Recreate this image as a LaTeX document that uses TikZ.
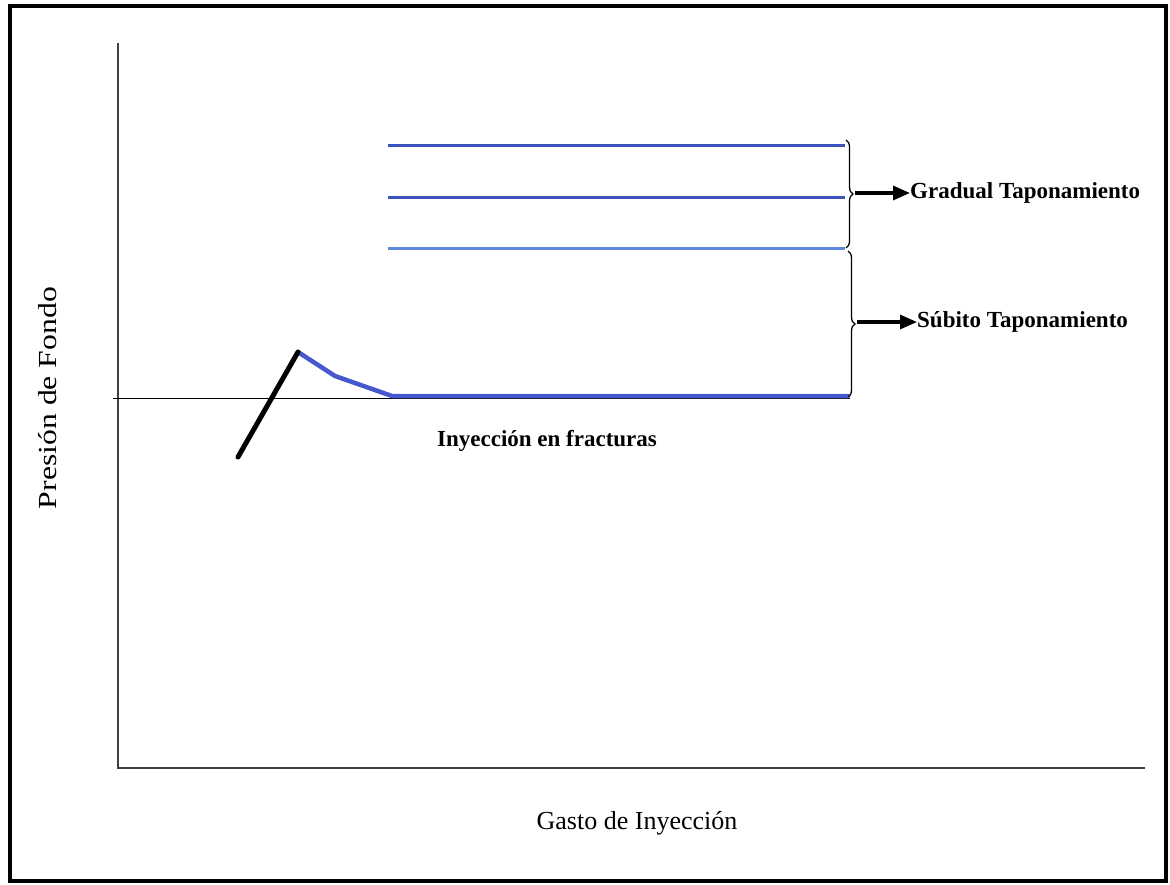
\documentclass[tikz,border=0pt]{standalone}
\usepackage{fontspec}
\setmainfont{Liberation Serif}
\usetikzlibrary{arrows.meta,decorations.pathreplacing}
\definecolor{blueA}{RGB}{62,82,192}
\definecolor{blueB}{RGB}{95,135,222}
\definecolor{blueC}{RGB}{70,88,205}
\tikzset{
  frame/.style={line width=3.5pt,black},
  axis/.style={line width=1.1pt,black!75},
  baseline line/.style={line width=0.9pt,black},
  level/.style={line width=3pt,#1},
  curve/.style={line width=4.5pt,blueC,line join=round,line cap=round},
  rise/.style={line width=5pt,black,line cap=round},
  bracestyle/.style={decorate,decoration={brace,amplitude=7pt,mirror},line width=1.3pt,black},
  pointer/.style={line width=3.2pt,-{Triangle[length=17pt,width=14pt]}},
  boldlabel/.style={font=\fontsize{23}{26}\selectfont\bfseries,inner sep=0pt,anchor=west},
  axislabel/.style={font=\fontsize{26}{30}\selectfont,inner sep=0pt}
}
\begin{document}
\begin{tikzpicture}[x=1pt,y=-1pt]
\useasboundingbox (0,0) rectangle (1170,885);
\draw[frame] (10,6) rectangle (1166,881);
% axes
\coordinate (ytop) at (118,43);
\coordinate (origin) at (118,768);
\coordinate (xend) at (1145,768);
\draw[axis] (ytop) -- (origin) -- (xend);
% baseline
\coordinate (bl0) at (113,398);
\coordinate (bl1) at (850,398);
\draw[baseline line] (bl0) -- (bl1);
% rise and decline
\coordinate (r0) at (238,457);
\coordinate (peak) at (298,352);
\coordinate (c1) at (335,376);
\coordinate (c2) at (392,396);
\coordinate (c3) at (848,396);
\draw[curve] (peak) -- (c1) -- (c2) -- (c3);
\draw[rise] (r0) -- (peak);
% levels
\coordinate (l1a) at (388,146); \coordinate (l1b) at (845,146);
\coordinate (l2a) at (388,198); \coordinate (l2b) at (845,198);
\coordinate (l3a) at (388,249); \coordinate (l3b) at (845,249);
\draw[level=blueA] (l1a) -- (l1b);
\draw[level=blueA] (l2a) -- (l2b);
\draw[level=blueB] (l3a) -- (l3b);
% braces
\coordinate (b1t) at (846,140);
\coordinate (b1b) at (846,248);
\coordinate (b2t) at (848,251);
\coordinate (b2b) at (848,397);
\draw[bracestyle] (b1b) -- (b1t);
\draw[bracestyle] (b2b) -- (b2t);
\coordinate (tip1) at (855,193);
\coordinate (tip2) at (857,322);
% labels
\node[boldlabel] (grad) at (910,193) {Gradual Taponamiento};
\node[boldlabel] (sub) at (917,322) {Súbito Taponamiento};
\draw[pointer] (tip1) -- (grad.west);
\draw[pointer] (tip2) -- (sub.west);
\node[font=\fontsize{23}{26}\selectfont\bfseries,inner sep=0pt] (iny) at (547,441) {Inyección en fracturas};
\node[axislabel] (gasto) at (637,823) {Gasto de Inyección};
\node[axislabel,rotate=90] (pres) at (48,398) {\scalebox{1.22}[1]{Presión de Fondo}};
\end{tikzpicture}
\end{document}
